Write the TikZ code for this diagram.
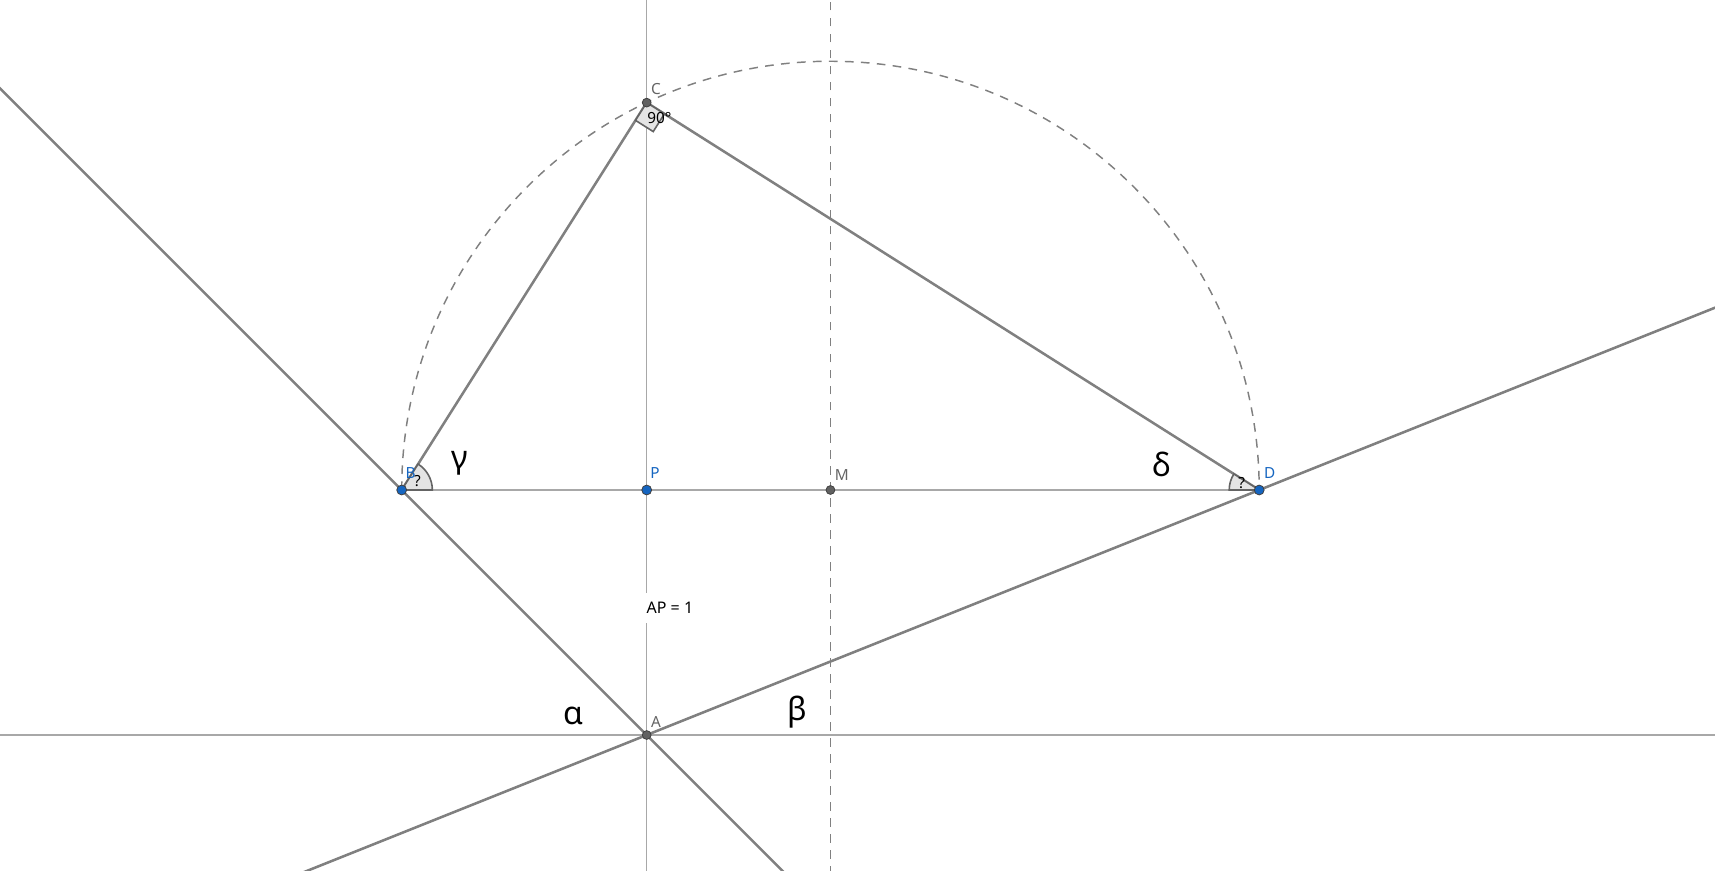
\documentclass[tikz,border=0pt]{standalone}
\usepackage{fontspec}
\setmainfont{Noto Sans}
\usetikzlibrary{calc}
\definecolor{ptblue}{RGB}{21,101,192}
\definecolor{ptgray}{RGB}{97,97,97}
\definecolor{lbgray}{RGB}{100,100,100}
\definecolor{lndark}{RGB}{128,128,128}
\definecolor{lnlight}{RGB}{168,168,168}
\definecolor{lndash}{RGB}{128,128,128}
\definecolor{anglefill}{RGB}{228,228,228}
\tikzset{
  thinln/.style={draw=lnlight, line width=1.1pt},
  thickln/.style={draw=lndark, line width=1.9pt},
  dashln/.style={draw=lndash, line width=1.1pt, dash pattern=on 6.5pt off 5.5pt},
  anglemark/.style={fill=anglefill, draw=lbgray, line width=1.2pt},
  bluept/.style={circle, fill=ptblue, draw=black!75, line width=0.6pt, inner sep=0pt, minimum size=7.4pt},
  graypt/.style={circle, fill=ptgray, draw=black!75, line width=0.6pt, inner sep=0pt, minimum size=6.6pt},
  ptlabel/.style={font=\fontsize{11.5}{13}\selectfont, inner sep=0pt},
  anglelabel/.style={font=\fontsize{11.5}{13}\selectfont, inner sep=0pt, text=black},
  greek/.style={font=\fontsize{24}{28}\selectfont, inner sep=0pt, text=black},
  measure/.style={font=\fontsize{12}{14}\selectfont, fill=white, inner xsep=2pt, inner ysep=7pt, text=black}
}
\begin{document}
\begin{tikzpicture}[x=183.75pt,y=183.75pt]
\useasboundingbox (-2.6396,-0.5510) rectangle (4.3604,3.0);
\clip (-2.6396,-0.5510) rectangle (4.3604,3.0);
% points
\coordinate (A) at (0,0);
\coordinate (P) at (0,1);
\coordinate (B) at (-1,1);
\coordinate (D) at (2.5,1);
\coordinate (M) at (0.75,1);
\coordinate (C) at (0,{1+sqrt(2.5)});
% free ends of the lines
\coordinate (xL) at (-2.8,0);
\coordinate (xR) at (4.5,0);
\coordinate (yB) at (0,-0.7);
\coordinate (yT) at (0,3.2);
\coordinate (mB) at (0.75,-0.7);
\coordinate (mT) at (0.75,3.2);
\coordinate (abL) at ($(A)!-1!(B)$);
\coordinate (abR) at ($(A)!3.2!(B)$);
\coordinate (adL) at ($(A)!-1!(D)$);
\coordinate (adR) at ($(A)!2!(D)$);
% thin lines
\draw[thinln] (xL) -- (xR);
\draw[thinln] (yB) -- (yT);
\draw[thinln] (B) -- (D);
% dashed
\draw[dashln] (mB) -- (mT);
\draw[dashln] (B) arc[start angle=180, end angle=0, radius=1.75];
% thick lines
\draw[thickln] (abL) -- (abR);
\draw[thickln] (adL) -- (adR);
\draw[thickln] (B) -- (C) -- (D);
% angle marks
\draw[anglemark] (B) -- ++(0:23pt) arc[start angle=0, end angle=57.688, radius=23pt] -- cycle;
\draw[anglemark] (D) -- ++(180:22.5pt) arc[start angle=180, end angle=147.688, radius=22.5pt] -- cycle;
\coordinate (c1) at ($(C)!15.75pt!(B)$);
\coordinate (c2) at ($(C)!15.75pt!(D)$);
\coordinate (c3) at ($(c1)+(c2)-(C)$);
\draw[anglemark] (C) -- (c1) -- (c3) -- (c2) -- cycle;
% measure label
\node[measure, anchor=west] (ap) at (-0.012,0.52) {AP = 1};
% angle labels
\node[anglelabel] (qB) at ([shift={(11.8pt,7pt)}]B) {?};
\node[anglelabel] (qD) at ([shift={(-13.2pt,5pt)}]D) {?};
\node[anglelabel] (rC) at ([shift={(9.6pt,-11.5pt)}]C) {90°};
% greek letters
\node[greek] (al) at (-0.297,0.078) {α};
\node[greek] (be) at (0.6155,0.0918) {β};
\node[greek] (ga) at (-0.762,1.110) {γ};
\node[greek] (de) at (2.103,1.106) {δ};
% dots
\node[graypt] (dA) at (A) {};
\node[graypt] (dC) at (C) {};
\node[graypt] (dM) at (M) {};
\node[bluept] (dB) at (B) {};
\node[bluept] (dP) at (P) {};
\node[bluept] (dD) at (D) {};
% point labels
\node[ptlabel, text=lbgray] (lA) at ([shift={(7pt,10pt)}]A) {A};
\node[ptlabel, text=lbgray] (lC) at ([shift={(7pt,10.3pt)}]C) {C};
\node[ptlabel, text=lbgray] (lM) at ([shift={(8.6pt,11.2pt)}]M) {M};
\node[ptlabel, text=ptblue] (lB) at ([shift={(6.75pt,12.5pt)}]B) {B};
\node[ptlabel, text=ptblue] (lP) at ([shift={(6.2pt,12.5pt)}]P) {P};
\node[ptlabel, text=ptblue] (lD) at ([shift={(7.8pt,12.5pt)}]D) {D};
\end{tikzpicture}
\end{document}
